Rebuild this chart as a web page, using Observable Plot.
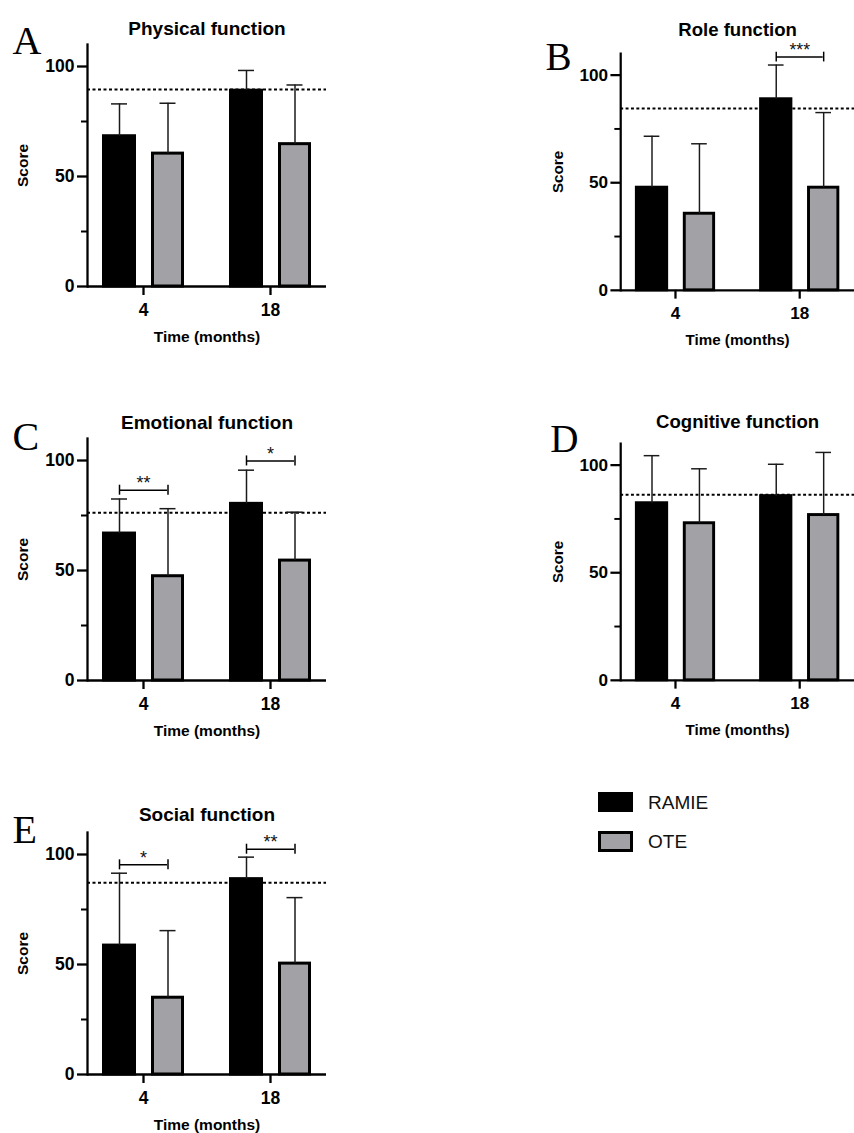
<!DOCTYPE html>
<html>
<head>
<meta charset="utf-8">
<script src="https://cdn.jsdelivr.net/npm/d3@7"></script>
<script src="https://cdn.jsdelivr.net/npm/@observablehq/plot@0.6"></script>
<style>
  html, body { margin: 0; padding: 0; background: #fff; overflow: hidden; }
  #page { position: relative; width: 854px; height: 1133px; font-family: "Liberation Sans", Arial, sans-serif; }
  .panel { position: absolute; }
  .swatch { position: absolute; box-sizing: border-box; }
  .legtext { position: absolute; font-size: 19px; line-height: 20px; color: #111; }
</style>
</head>
<body>
<div id="page"></div>
<script>
// ---------- data ----------
const times = ["4", "18"];
const seriesNames = ["RAMIE", "OTE"];
const seriesFill = ["#000000", "#a2a1a6"];
const titles = ["Physical function", "Role function", "Emotional function", "Cognitive function", "Social function"];
const letters = ["A", "B", "C", "D", "E"];

// mean scores (4 months, 18 months) and SD (upper error bar)
const physicalRAMIE = [68.3, 89.0];
const physicalRAMIEsd = [14.7, 9.2];
const physicalOTE = [60.4, 64.7];
const physicalOTEsd = [22.9, 26.9];
const physicalNorm = 89.5;
const physicalSig = [];

const roleRAMIE = [47.7, 88.8];
const roleRAMIEsd = [23.9, 15.9];
const roleOTE = [35.6, 47.7];
const roleOTEsd = [32.5, 34.9];
const roleNorm = 84.5;
const roleSig = [{time: "18", y: 108.4, label: "***"}];

const emotionalRAMIE = [66.8, 80.3];
const emotionalRAMIEsd = [15.7, 15.3];
const emotionalOTE = [47.4, 54.5];
const emotionalOTEsd = [30.7, 22.0];
const emotionalNorm = 76.3;
const emotionalSig = [{time: "4", y: 86.5, label: "**"}, {time: "18", y: 99.8, label: "*"}];

const cognitiveRAMIE = [82.3, 85.6];
const cognitiveRAMIEsd = [22.1, 14.8];
const cognitiveOTE = [73.0, 76.8];
const cognitiveOTEsd = [25.3, 29.1];
const cognitiveNorm = 86.2;
const cognitiveSig = [];

const socialRAMIE = [58.6, 88.8];
const socialRAMIEsd = [32.9, 10.0];
const socialOTE = [34.9, 50.4];
const socialOTEsd = [30.5, 30.0];
const socialNorm = 87.2;
const socialSig = [{time: "4", y: 95.3, label: "*"}, {time: "18", y: 102.4, label: "**"}];

const yTicks = [0, 50, 100];
const yMinorTicks = [25, 75];

// ---------- layout ----------
const FONT = "'Liberation Sans', Arial, sans-serif";
const panels = [
  {title: titles[0], letter: letters[0], ramie: physicalRAMIE, ramieSd: physicalRAMIEsd, ote: physicalOTE, oteSd: physicalOTEsd, norm: physicalNorm, sig: physicalSig,
   left: 0, top: 4, ml: 87, titleDy: -16, letterDx: -75, letterDy: 9},
  {title: titles[1], letter: letters[1], ramie: roleRAMIE, ramieSd: roleRAMIEsd, ote: roleOTE, oteSd: roleOTEsd, norm: roleNorm, sig: roleSig,
   left: 540, top: 13.7, ml: 82, titleDy: -23.7, letterDx: -77, letterDy: 16.3},
  {title: titles[2], letter: letters[2], ramie: emotionalRAMIE, ramieSd: emotionalRAMIEsd, ote: emotionalOTE, oteSd: emotionalOTEsd, norm: emotionalNorm, sig: emotionalSig,
   left: 0, top: 398, ml: 87, titleDy: -15.3, letterDx: -75, letterDy: 11},
  {title: titles[3], letter: letters[3], ramie: cognitiveRAMIE, ramieSd: cognitiveRAMIEsd, ote: cognitiveOTE, oteSd: cognitiveOTEsd, norm: cognitiveNorm, sig: cognitiveSig,
   left: 540, top: 404, ml: 82, titleDy: -22.3, letterDx: -72, letterDy: 9},
  {title: titles[4], letter: letters[4], ramie: socialRAMIE, ramieSd: socialRAMIEsd, ote: socialOTE, oteSd: socialOTEsd, norm: socialNorm, sig: socialSig,
   left: 0, top: 792.3, ml: 87, titleDy: -17.3, letterDx: -75, letterDy: 10.7}
];

function makePanel(p) {
  const R = times.map((t, i) => ({time: t, series: seriesNames[0], mean: p.ramie[i], sd: p.ramieSd[i]}));
  const O = times.map((t, i) => ({time: t, series: seriesNames[1], mean: p.ote[i], sd: p.oteSd[i]}));
  const top = d => d.mean + d.sd;
  return Plot.plot({
    width: p.ml + 239,
    height: 342,
    marginLeft: p.ml,
    marginRight: 0,
    marginTop: 40,
    marginBottom: 60,
    style: {fontFamily: FONT, fontSize: "17px", fontWeight: "bold", background: "transparent", overflow: "visible", color: "#000"},
    x: {domain: times, paddingInner: 0.3516, paddingOuter: 0.1094},
    y: {domain: [0, 110]},
    marks: [
      Plot.ruleY([p.norm], {stroke: "#000", strokeWidth: 2, strokeDasharray: "3,2.5"}),
      Plot.barY(R, {x: "time", y: "mean", fill: seriesFill[0], stroke: "#000", strokeWidth: 3, insetLeft: 1.5, insetRight: 49.5}),
      Plot.barY(O, {x: "time", y: "mean", fill: seriesFill[1], stroke: "#000", strokeWidth: 3, insetLeft: 50.5, insetRight: 1.5}),
      Plot.ruleX(R, {x: "time", y1: "mean", y2: top, dx: -24, stroke: "#1a1a1a", strokeWidth: 1.5}),
      Plot.ruleX(O, {x: "time", y1: "mean", y2: top, dx: 24.5, stroke: "#1a1a1a", strokeWidth: 1.5}),
      Plot.tickY(R, {x: "time", y: top, insetLeft: 9, insetRight: 57, stroke: "#1a1a1a", strokeWidth: 1.5}),
      Plot.tickY(O, {x: "time", y: top, insetLeft: 57.5, insetRight: 8.5, stroke: "#1a1a1a", strokeWidth: 1.5}),
      // significance brackets
      Plot.tickY(p.sig, {x: "time", y: "y", insetLeft: 17.5, insetRight: 17, stroke: "#000", strokeWidth: 1.5}),
      Plot.ruleX(p.sig, {x: "time", y1: "y", y2: "y", insetTop: 5, insetBottom: 5, dx: -24, stroke: "#000", strokeWidth: 1.5}),
      Plot.ruleX(p.sig, {x: "time", y1: "y", y2: "y", insetTop: 5, insetBottom: 5, dx: 24.5, stroke: "#000", strokeWidth: 1.5}),
      Plot.text(p.sig, {x: "time", y: "y", text: "label", lineAnchor: "bottom", dy: -1, fontSize: 18, fontWeight: "normal", fill: "#111"}),
      // axes
      Plot.ruleY([0], {stroke: "#000", strokeWidth: 2.3}),
      Plot.frame({anchor: "left", stroke: "#000", strokeWidth: 2.3}),
      Plot.axisY({ticks: yTicks, tickSize: 10, tickPadding: 3, strokeWidth: 2.3, label: null, fontSize: 17.5, fontWeight: "bold"}),
      Plot.axisY({ticks: yMinorTicks, tickSize: 6, tickFormat: () => "", strokeWidth: 2, label: null}),
      Plot.axisX({tickSize: 9, tickPadding: 8, strokeWidth: 2.3, label: null, fontSize: 17.5, fontWeight: "bold"}),
      // labels
      Plot.text(["Score"], {text: d => d, frameAnchor: "left", dx: -64, rotate: -90, textAnchor: "middle", lineAnchor: "middle", fontSize: 15.5, fontWeight: "bold"}),
      Plot.text(["Time (months)"], {text: d => d, frameAnchor: "bottom", dy: 51, lineAnchor: "middle", fontSize: 15.5, fontWeight: "bold"}),
      Plot.text([p.title], {text: d => d, frameAnchor: "top", dy: p.titleDy, lineAnchor: "middle", fontSize: 19, fontWeight: "bold"}),
      Plot.text([p.letter], {text: d => d, frameAnchor: "top-left", dx: p.letterDx, dy: p.letterDy, textAnchor: "start", lineAnchor: "bottom", fontFamily: "'Liberation Serif', 'Times New Roman', serif", fontSize: 40, fontWeight: "normal"})
    ]
  });
}

const page = document.getElementById("page");
for (const p of panels) {
  const div = document.createElement("div");
  div.className = "panel";
  div.style.left = p.left + "px";
  div.style.top = p.top + "px";
  div.appendChild(makePanel(p));
  page.appendChild(div);
}

// legend
const legendTops = [792, 831];
seriesNames.forEach((name, i) => {
  const sw = document.createElement("div");
  sw.className = "swatch";
  sw.style.left = "598px";
  sw.style.top = legendTops[i] + "px";
  sw.style.width = "35px";
  sw.style.height = (i === 0 ? 20 : 21) + "px";
  sw.style.background = seriesFill[i];
  sw.style.border = "3px solid #000";
  page.appendChild(sw);
  const tx = document.createElement("div");
  tx.className = "legtext";
  tx.style.left = "648px";
  tx.style.top = (legendTops[i] + 0.5) + "px";
  tx.textContent = name;
  page.appendChild(tx);
});
</script>
</body>
</html>
